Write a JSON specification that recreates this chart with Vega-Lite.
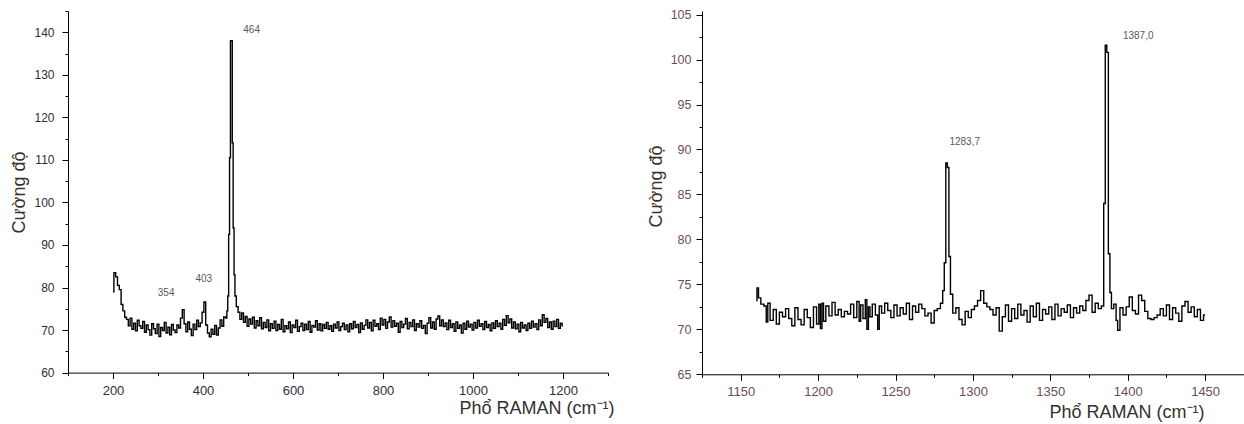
{
  "$schema": "https://vega.github.io/schema/vega-lite/v6.json",
  "padding": {"left": 10, "top": 5, "right": 0, "bottom": 0},
  "spacing": 33,
  "background": "white",
  "config": {
    "view": {"stroke": null},
    "axis": {"grid": false, "domainColor": "#000", "tickColor": "#000", "domainWidth": 1, "tickWidth": 1, "labelFont": "Liberation Sans", "titleFont": "Liberation Sans", "titleFontWeight": "normal", "labelFlush": false, "labelOverlap": false},
    "text": {"font": "Liberation Sans"}
  },
  "hconcat": [
    {
      "width": 540,
      "height": 361.6,
      "layer": [
        {
          "data": {"values": [
            {"x":200,"y":79},{"x":204,"y":83.5},{"x":208,"y":82.5},{"x":212,"y":80.5},{"x":216,"y":79.5},{"x":220,"y":76},{"x":224,"y":74.5},{"x":228,"y":73},{"x":232,"y":72.5},{"x":236,"y":71},{"x":240,"y":72.8},{"x":244,"y":70.2},{"x":248,"y":71.6},{"x":252,"y":69.8},{"x":256,"y":72.3},{"x":260,"y":71},{"x":264,"y":70.4},{"x":268,"y":72},{"x":272,"y":69.5},{"x":276,"y":71.2},{"x":280,"y":70.1},{"x":284,"y":68.8},{"x":288,"y":71.5},{"x":292,"y":70.3},{"x":296,"y":69.2},{"x":300,"y":71.4},{"x":304,"y":68.5},{"x":308,"y":70.6},{"x":312,"y":69.9},{"x":316,"y":71.8},{"x":320,"y":69.3},{"x":324,"y":70.7},{"x":328,"y":68.9},{"x":332,"y":71.3},{"x":336,"y":70},{"x":340,"y":69.4},{"x":344,"y":71.2},{"x":348,"y":70.5},{"x":352,"y":72.8},{"x":356,"y":74.8},{"x":360,"y":71.5},{"x":364,"y":69.6},{"x":368,"y":71.9},{"x":372,"y":70.2},{"x":376,"y":68.7},{"x":380,"y":71.4},{"x":384,"y":70.1},{"x":388,"y":72.3},{"x":392,"y":70.8},{"x":396,"y":71.7},{"x":400,"y":74.2},{"x":404,"y":76.6},{"x":408,"y":71.2},{"x":412,"y":69.3},{"x":416,"y":68.4},{"x":420,"y":70.2},{"x":424,"y":69},{"x":428,"y":71.1},{"x":432,"y":68.8},{"x":436,"y":70.5},{"x":440,"y":72.4},{"x":444,"y":70.9},{"x":448,"y":73.1},{"x":452,"y":72.8},{"x":454,"y":74.5},{"x":456,"y":78},{"x":458,"y":92.5},{"x":460,"y":110.5},{"x":462,"y":138},{"x":464,"y":138},{"x":466,"y":114},{"x":468,"y":94},{"x":470,"y":83},{"x":472,"y":78},{"x":476,"y":75.5},{"x":480,"y":74.2},{"x":484,"y":72.5},{"x":488,"y":74},{"x":492,"y":71.8},{"x":496,"y":73.2},{"x":500,"y":70.9},{"x":504,"y":72.6},{"x":508,"y":71.4},{"x":512,"y":73},{"x":516,"y":70.5},{"x":520,"y":72.2},{"x":524,"y":71},{"x":528,"y":72.9},{"x":532,"y":70.3},{"x":536,"y":71.8},{"x":540,"y":70.6},{"x":544,"y":72.4},{"x":548,"y":69.8},{"x":552,"y":71.5},{"x":556,"y":70.4},{"x":560,"y":72.1},{"x":564,"y":69.9},{"x":568,"y":71.3},{"x":572,"y":70.2},{"x":576,"y":72.5},{"x":580,"y":69.6},{"x":584,"y":71},{"x":588,"y":70.3},{"x":592,"y":71.9},{"x":596,"y":69.4},{"x":600,"y":71.2},{"x":604,"y":70.6},{"x":608,"y":72.3},{"x":612,"y":69.7},{"x":616,"y":70.8},{"x":620,"y":71.6},{"x":624,"y":69.9},{"x":628,"y":71.4},{"x":632,"y":70.1},{"x":636,"y":72},{"x":640,"y":69.5},{"x":644,"y":71.1},{"x":648,"y":70.7},{"x":652,"y":72.2},{"x":656,"y":70},{"x":660,"y":71.5},{"x":664,"y":69.8},{"x":668,"y":71.3},{"x":672,"y":70.4},{"x":676,"y":71.8},{"x":680,"y":70.2},{"x":684,"y":71},{"x":688,"y":69.7},{"x":692,"y":71.4},{"x":696,"y":70.5},{"x":700,"y":71.9},{"x":704,"y":69.9},{"x":708,"y":70.8},{"x":712,"y":71.6},{"x":716,"y":70.1},{"x":720,"y":71.2},{"x":724,"y":69.6},{"x":728,"y":71.5},{"x":732,"y":70.3},{"x":736,"y":72},{"x":740,"y":70.6},{"x":744,"y":71.3},{"x":748,"y":69.4},{"x":752,"y":71.7},{"x":756,"y":70.2},{"x":760,"y":71.1},{"x":764,"y":72.4},{"x":768,"y":70.5},{"x":772,"y":71.8},{"x":776,"y":69.8},{"x":780,"y":72.3},{"x":784,"y":70.9},{"x":788,"y":71.5},{"x":792,"y":70.1},{"x":796,"y":72.8},{"x":800,"y":71.2},{"x":804,"y":72.5},{"x":808,"y":70.4},{"x":812,"y":71.9},{"x":816,"y":73.1},{"x":820,"y":70.7},{"x":824,"y":72.2},{"x":828,"y":70.9},{"x":832,"y":71.6},{"x":836,"y":69.5},{"x":840,"y":72},{"x":844,"y":70.6},{"x":848,"y":71.4},{"x":852,"y":72.7},{"x":856,"y":70.3},{"x":860,"y":71.8},{"x":864,"y":70.8},{"x":868,"y":72.4},{"x":872,"y":69.9},{"x":876,"y":71.5},{"x":880,"y":70.7},{"x":884,"y":72.2},{"x":888,"y":70.4},{"x":892,"y":71.1},{"x":896,"y":69.2},{"x":900,"y":71.6},{"x":904,"y":72.9},{"x":908,"y":70.5},{"x":912,"y":71.9},{"x":916,"y":70.2},{"x":920,"y":72.6},{"x":924,"y":73.3},{"x":928,"y":71},{"x":932,"y":72.4},{"x":936,"y":70.8},{"x":940,"y":71.7},{"x":944,"y":70.1},{"x":948,"y":72.3},{"x":952,"y":70.6},{"x":956,"y":71.5},{"x":960,"y":69.7},{"x":964,"y":71.9},{"x":968,"y":70.4},{"x":972,"y":71.2},{"x":976,"y":69.3},{"x":980,"y":71.6},{"x":984,"y":70.2},{"x":988,"y":72.1},{"x":992,"y":70.7},{"x":996,"y":71.4},{"x":1000,"y":70},{"x":1004,"y":71.8},{"x":1008,"y":70.5},{"x":1012,"y":72.3},{"x":1016,"y":70.9},{"x":1020,"y":71.5},{"x":1024,"y":70.1},{"x":1028,"y":72},{"x":1032,"y":70.6},{"x":1036,"y":71.3},{"x":1040,"y":69.8},{"x":1044,"y":71.7},{"x":1048,"y":70.4},{"x":1052,"y":72.2},{"x":1056,"y":70.8},{"x":1060,"y":71.6},{"x":1064,"y":70.2},{"x":1068,"y":72.5},{"x":1072,"y":71.1},{"x":1076,"y":73.4},{"x":1080,"y":71.7},{"x":1084,"y":72.6},{"x":1088,"y":70.5},{"x":1092,"y":71.9},{"x":1096,"y":70.3},{"x":1100,"y":71.4},{"x":1104,"y":69.6},{"x":1108,"y":71.8},{"x":1112,"y":70.5},{"x":1116,"y":71.2},{"x":1120,"y":69.9},{"x":1124,"y":71.6},{"x":1128,"y":70.4},{"x":1132,"y":72.1},{"x":1136,"y":70.7},{"x":1140,"y":71.5},{"x":1144,"y":70.1},{"x":1148,"y":72.4},{"x":1152,"y":71},{"x":1156,"y":73.6},{"x":1160,"y":71.8},{"x":1164,"y":72.7},{"x":1168,"y":70.6},{"x":1172,"y":71.9},{"x":1176,"y":70.2},{"x":1180,"y":72.1},{"x":1184,"y":70.8},{"x":1188,"y":72.5},{"x":1192,"y":70.4},{"x":1196,"y":71.6},{"x":1200,"y":71}
          ]},
          "mark": {"type": "line", "interpolate": "step", "color": "#000", "strokeWidth": 1.4},
          "encoding": {
            "x": {"field": "x", "type": "quantitative", "scale": {"domain": [100, 1300], "nice": false, "zero": false},
              "axis": {"values": [100,200,300,400,500,600,700,800,900,1000,1100,1200,1300],
                "tickCount": 100, "format": "d", "labelOverlap": false,
                "labelExpr": "datum.value % 200 === 0 ? datum.label : ''",
                "tickSize": {"condition": {"test": "datum.value % 200 === 0", "value": 6}, "value": 3},
                "labelFontSize": 13, "labelPadding": 6, "labelColor": "#2e2e38",
                "title": "Phổ RAMAN (cm⁻¹)", "titleFontSize": 18, "titleColor": "#333030",
                "titleX": 546, "titleY": 41, "titleAlign": "right", "titleBaseline": "alphabetic"}},
            "y": {"field": "y", "type": "quantitative", "scale": {"domain": [60, 145], "nice": false, "zero": false},
              "axis": {"values": [60,65,70,75,80,85,90,95,100,105,110,115,120,125,130,135,140,145],
                "tickCount": 100, "format": "d", "labelOverlap": false,
                "labelExpr": "datum.value % 10 === 0 ? datum.label : ''",
                "tickSize": {"condition": {"test": "datum.value % 10 === 0", "value": 6}, "value": 3},
                "labelFontSize": 12, "labelPadding": 8, "labelColor": "#2e2e38",
                "title": "Cường độ", "titleFontSize": 18, "titleColor": "#3a3028",
                "titleX": -49, "titleY": 181, "titleAlign": "center", "titleBaseline": "middle", "titleAngle": -90}}
          }
        },
        {
          "data": {"values": [
            {"x": 318, "y": 78.8, "label": "354"},
            {"x": 401.6, "y": 82.1, "label": "403"},
            {"x": 508, "y": 140.5, "label": "464"}
          ]},
          "mark": {"type": "text", "fontSize": 10, "color": "#5a5a5a"},
          "encoding": {
            "x": {"field": "x", "type": "quantitative"},
            "y": {"field": "y", "type": "quantitative"},
            "text": {"field": "label"}
          }
        }
      ]
    },
    {
      "width": 541.8,
      "height": 363.3,
      "layer": [
        {
          "data": {"values": [
            {"x":1160,"y":73.2},{"x":1161,"y":74.6},{"x":1162,"y":73.5},{"x":1164,"y":72.8},{"x":1166,"y":72.6},{"x":1167,"y":70.8},{"x":1168,"y":72.9},{"x":1170,"y":71},{"x":1172,"y":72.2},{"x":1174,"y":70.6},{"x":1176,"y":71.9},{"x":1178,"y":71.4},{"x":1180,"y":72.3},{"x":1182,"y":71.2},{"x":1184,"y":70.4},{"x":1186,"y":72.4},{"x":1188,"y":71.1},{"x":1190,"y":70.5},{"x":1192,"y":72.2},{"x":1194,"y":71.3},{"x":1196,"y":70.2},{"x":1198,"y":72.5},{"x":1200,"y":70.6},{"x":1201,"y":72.8},{"x":1202,"y":70.1},{"x":1203,"y":72.9},{"x":1204,"y":70.9},{"x":1206,"y":72.6},{"x":1208,"y":71.5},{"x":1210,"y":73},{"x":1212,"y":71.6},{"x":1214,"y":72.2},{"x":1216,"y":71.4},{"x":1218,"y":72},{"x":1220,"y":71.7},{"x":1222,"y":72.8},{"x":1224,"y":71.3},{"x":1226,"y":73.1},{"x":1227,"y":70.9},{"x":1228,"y":72.7},{"x":1230,"y":71.2},{"x":1231,"y":73.3},{"x":1232,"y":70},{"x":1233,"y":72.5},{"x":1234,"y":71.4},{"x":1236,"y":72.8},{"x":1238,"y":71.6},{"x":1239,"y":70},{"x":1240,"y":72.6},{"x":1242,"y":71.8},{"x":1244,"y":72.9},{"x":1246,"y":72.1},{"x":1248,"y":71.3},{"x":1250,"y":72.7},{"x":1252,"y":71.5},{"x":1254,"y":72.4},{"x":1256,"y":71.7},{"x":1258,"y":72.9},{"x":1260,"y":71.1},{"x":1262,"y":72.6},{"x":1264,"y":71.9},{"x":1266,"y":72.8},{"x":1268,"y":72.3},{"x":1270,"y":71.5},{"x":1272,"y":71.8},{"x":1274,"y":70.7},{"x":1276,"y":72.1},{"x":1278,"y":72.3},{"x":1280,"y":72.9},{"x":1281,"y":74.3},{"x":1282,"y":77.4},{"x":1283,"y":88.5},{"x":1284,"y":88},{"x":1285,"y":78.1},{"x":1286,"y":73.9},{"x":1288,"y":71.8},{"x":1290,"y":72.4},{"x":1292,"y":71.1},{"x":1294,"y":70.5},{"x":1296,"y":72},{"x":1298,"y":71.3},{"x":1300,"y":72.2},{"x":1302,"y":72.6},{"x":1304,"y":73.2},{"x":1306,"y":74.3},{"x":1308,"y":72.9},{"x":1310,"y":72.5},{"x":1312,"y":72.2},{"x":1314,"y":71.6},{"x":1316,"y":72.4},{"x":1318,"y":69.8},{"x":1320,"y":71.4},{"x":1322,"y":72.7},{"x":1324,"y":70.9},{"x":1326,"y":72.3},{"x":1328,"y":71.2},{"x":1330,"y":72.8},{"x":1332,"y":71.6},{"x":1334,"y":72.1},{"x":1336,"y":70.8},{"x":1338,"y":72.6},{"x":1340,"y":71.4},{"x":1342,"y":72.9},{"x":1344,"y":71},{"x":1346,"y":72.2},{"x":1348,"y":71.7},{"x":1350,"y":72.5},{"x":1352,"y":71.1},{"x":1354,"y":72.8},{"x":1356,"y":71.5},{"x":1358,"y":72.3},{"x":1360,"y":71.9},{"x":1362,"y":72.7},{"x":1364,"y":71.3},{"x":1366,"y":72.4},{"x":1368,"y":71.8},{"x":1370,"y":72.6},{"x":1372,"y":72.1},{"x":1374,"y":73.2},{"x":1376,"y":73.8},{"x":1378,"y":71.9},{"x":1380,"y":72.9},{"x":1382,"y":72.3},{"x":1384,"y":72.6},{"x":1385,"y":84},{"x":1386,"y":101.6},{"x":1387,"y":100.8},{"x":1388,"y":78.4},{"x":1389,"y":74.1},{"x":1390,"y":72.3},{"x":1392,"y":72.8},{"x":1393,"y":71},{"x":1394,"y":69.9},{"x":1396,"y":72.4},{"x":1398,"y":71.6},{"x":1400,"y":72.5},{"x":1402,"y":73.6},{"x":1404,"y":72.1},{"x":1406,"y":71.7},{"x":1408,"y":73.8},{"x":1410,"y":73.2},{"x":1412,"y":72},{"x":1414,"y":71.2},{"x":1416,"y":71.1},{"x":1418,"y":71.3},{"x":1420,"y":71.6},{"x":1422,"y":72.3},{"x":1424,"y":71.5},{"x":1426,"y":72.7},{"x":1428,"y":71.1},{"x":1430,"y":72.4},{"x":1432,"y":71.8},{"x":1434,"y":70.9},{"x":1436,"y":72.6},{"x":1438,"y":73.1},{"x":1440,"y":71.9},{"x":1442,"y":72.5},{"x":1444,"y":71.4},{"x":1446,"y":72.2},{"x":1448,"y":71},{"x":1450,"y":71.6}
          ]},
          "mark": {"type": "line", "interpolate": "step", "color": "#000", "strokeWidth": 1.4},
          "encoding": {
            "x": {"field": "x", "type": "quantitative", "scale": {"domain": [1125, 1475], "nice": false, "zero": false},
              "axis": {"values": [1125,1150,1175,1200,1225,1250,1275,1300,1325,1350,1375,1400,1425,1450,1475],
                "tickCount": 100, "format": "d", "labelOverlap": false,
                "labelExpr": "datum.value % 50 === 0 ? datum.label : ''",
                "tickSize": {"condition": {"test": "datum.value % 50 === 0", "value": 6}, "value": 3},
                "labelFontSize": 13, "labelPadding": 5, "labelColor": "#6b4e55",
                "title": "Phổ RAMAN (cm⁻¹)", "titleFontSize": 18, "titleColor": "#333030",
                "titleX": 502, "titleY": 43, "titleAlign": "right", "titleBaseline": "alphabetic"}},
            "y": {"field": "y", "type": "quantitative", "scale": {"domain": [65, 105.4], "nice": false, "zero": false},
              "axis": {"values": [65,67.5,70,72.5,75,77.5,80,82.5,85,87.5,90,92.5,95,97.5,100,102.5,105],
                "tickCount": 100, "format": "d", "labelOverlap": false,
                "labelExpr": "datum.value % 5 === 0 ? datum.label : ''",
                "tickSize": {"condition": {"test": "datum.value % 5 === 0", "value": 6}, "value": 3},
                "labelFontSize": 12.5, "labelPadding": 5, "labelColor": "#6b4e55",
                "title": "Cường độ", "titleFontSize": 18, "titleColor": "#3a3028",
                "titleX": -45.5, "titleY": 175, "titleAlign": "center", "titleBaseline": "middle", "titleAngle": -90}}
          }
        },
        {
          "data": {"values": [
            {"x": 1294.7, "y": 90.8, "label": "1283,7"},
            {"x": 1406.8, "y": 102.6, "label": "1387,0"}
          ]},
          "mark": {"type": "text", "fontSize": 10, "color": "#5a5a5a"},
          "encoding": {
            "x": {"field": "x", "type": "quantitative"},
            "y": {"field": "y", "type": "quantitative"},
            "text": {"field": "label"}
          }
        }
      ]
    }
  ]
}
